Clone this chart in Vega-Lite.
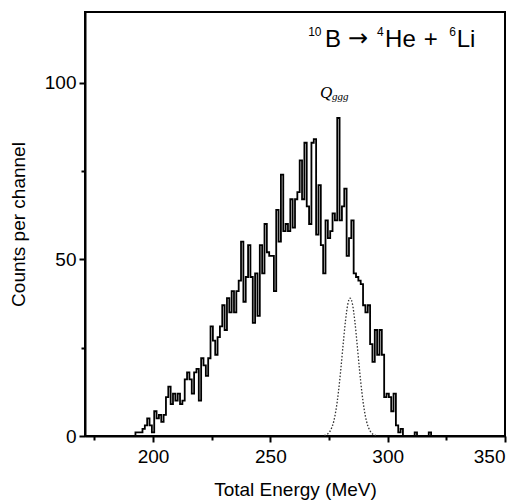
{
  "$schema": "https://vega.github.io/schema/vega-lite/v6.json",
  "width": 420,
  "height": 424,
  "autosize": {"type": "none"},
  "padding": {"left": 85, "top": 12, "right": 22, "bottom": 68},
  "background": "white",
  "config": {
    "view": {"stroke": "black", "strokeWidth": 2},
    "font": "Liberation Sans",
    "axis": {
      "grid": false,
      "domainColor": "black",
      "domainWidth": 2,
      "tickColor": "black",
      "tickWidth": 2,
      "labelFont": "Liberation Sans",
      "labelFontSize": 19,
      "labelColor": "black",
      "titleFont": "Liberation Sans",
      "titleFontSize": 19,
      "titleFontWeight": "normal",
      "titleColor": "black"
    }
  },
  "datasets": {
    "hist": [
      {"e": 192, "c": 0}, {"e": 193, "c": 1}, {"e": 194, "c": 1}, {"e": 195, "c": 1}, {"e": 196, "c": 2},
      {"e": 197, "c": 3}, {"e": 198, "c": 5}, {"e": 199, "c": 3}, {"e": 200, "c": 1}, {"e": 201, "c": 7},
      {"e": 202, "c": 5}, {"e": 203, "c": 6}, {"e": 204, "c": 4}, {"e": 205, "c": 6}, {"e": 206, "c": 11},
      {"e": 207, "c": 14}, {"e": 208, "c": 9}, {"e": 209, "c": 12}, {"e": 210, "c": 10}, {"e": 211, "c": 12},
      {"e": 212, "c": 9}, {"e": 213, "c": 10}, {"e": 214, "c": 16}, {"e": 215, "c": 18}, {"e": 216, "c": 16},
      {"e": 217, "c": 12}, {"e": 218, "c": 18}, {"e": 219, "c": 19}, {"e": 220, "c": 10}, {"e": 221, "c": 22},
      {"e": 222, "c": 20}, {"e": 223, "c": 17}, {"e": 224, "c": 22}, {"e": 225, "c": 31}, {"e": 226, "c": 27},
      {"e": 227, "c": 23}, {"e": 228, "c": 28}, {"e": 229, "c": 31}, {"e": 230, "c": 37}, {"e": 231, "c": 30},
      {"e": 232, "c": 39}, {"e": 233, "c": 35}, {"e": 234, "c": 41}, {"e": 235, "c": 35}, {"e": 236, "c": 41},
      {"e": 237, "c": 44}, {"e": 238, "c": 55}, {"e": 239, "c": 38}, {"e": 240, "c": 45}, {"e": 241, "c": 54},
      {"e": 242, "c": 45}, {"e": 243, "c": 32}, {"e": 244, "c": 46}, {"e": 245, "c": 34}, {"e": 246, "c": 54},
      {"e": 247, "c": 46}, {"e": 248, "c": 60}, {"e": 249, "c": 52}, {"e": 250, "c": 51}, {"e": 251, "c": 51},
      {"e": 252, "c": 41}, {"e": 253, "c": 64}, {"e": 254, "c": 55}, {"e": 255, "c": 74}, {"e": 256, "c": 58},
      {"e": 257, "c": 60}, {"e": 258, "c": 58}, {"e": 259, "c": 67}, {"e": 260, "c": 59}, {"e": 261, "c": 67},
      {"e": 262, "c": 69}, {"e": 263, "c": 78}, {"e": 264, "c": 67}, {"e": 265, "c": 83}, {"e": 266, "c": 65},
      {"e": 267, "c": 60}, {"e": 268, "c": 83}, {"e": 269, "c": 84}, {"e": 270, "c": 57}, {"e": 271, "c": 71},
      {"e": 272, "c": 54}, {"e": 273, "c": 46}, {"e": 274, "c": 61}, {"e": 275, "c": 56}, {"e": 276, "c": 58},
      {"e": 277, "c": 63}, {"e": 278, "c": 61}, {"e": 279, "c": 90}, {"e": 280, "c": 61}, {"e": 281, "c": 65},
      {"e": 282, "c": 70}, {"e": 283, "c": 51}, {"e": 284, "c": 56}, {"e": 285, "c": 61}, {"e": 286, "c": 46},
      {"e": 287, "c": 45}, {"e": 288, "c": 44}, {"e": 289, "c": 43}, {"e": 290, "c": 37}, {"e": 291, "c": 35},
      {"e": 292, "c": 37}, {"e": 293, "c": 26}, {"e": 294, "c": 21}, {"e": 295, "c": 30}, {"e": 296, "c": 23},
      {"e": 297, "c": 30}, {"e": 298, "c": 23}, {"e": 299, "c": 11}, {"e": 300, "c": 12}, {"e": 301, "c": 11},
      {"e": 302, "c": 7}, {"e": 303, "c": 12}, {"e": 304, "c": 3}, {"e": 305, "c": 1}, {"e": 306, "c": 2},
      {"e": 307, "c": 0}, {"e": 308, "c": 0}, {"e": 309, "c": 0}, {"e": 310, "c": 0}, {"e": 311, "c": 0},
      {"e": 312, "c": 1}, {"e": 313, "c": 0}, {"e": 314, "c": 0}, {"e": 315, "c": 0}, {"e": 316, "c": 0},
      {"e": 317, "c": 0}, {"e": 318, "c": 1}, {"e": 319, "c": 0}
    ],
    "gauss": [
      {"e": 273, "c": 0.15}, {"e": 274, "c": 0.4}, {"e": 275, "c": 0.95}, {"e": 276, "c": 2.1},
      {"e": 277, "c": 4.1}, {"e": 278, "c": 7.5}, {"e": 279, "c": 12.4}, {"e": 280, "c": 18.7},
      {"e": 281, "c": 25.8}, {"e": 282, "c": 32.5}, {"e": 283, "c": 37.3}, {"e": 284, "c": 39},
      {"e": 285, "c": 37.3}, {"e": 286, "c": 32.5}, {"e": 287, "c": 25.8}, {"e": 288, "c": 18.7},
      {"e": 289, "c": 12.4}, {"e": 290, "c": 7.5}, {"e": 291, "c": 4.1}, {"e": 292, "c": 2.1},
      {"e": 293, "c": 0.95}, {"e": 294, "c": 0.4}, {"e": 295, "c": 0.15}
    ],
    "main": [
      {"e": 273.3, "c": 110.2, "t": "B"},
      {"e": 298.9, "c": 110.2, "t": "He"},
      {"e": 315.4, "c": 110.2, "t": "+"},
      {"e": 329.4, "c": 110.2, "t": "Li"}
    ],
    "arrow": [
      {"e": 283.1, "c": 110.4, "t": "→"}
    ],
    "sup": [
      {"e": 266.1, "c": 113.3, "t": "10"},
      {"e": 295.5, "c": 113.3, "t": "4"},
      {"e": 326.2, "c": 113.3, "t": "6"}
    ],
    "q": [{"e": 271.2, "c": 95.8, "t": "Q"}],
    "qsub": [{"e": 276.3, "c": 95.0, "t": "ggg"}]
  },
  "layer": [
    {
      "data": {"name": "hist"},
      "mark": {"type": "line", "interpolate": "step", "color": "black", "strokeWidth": 1.8},
      "encoding": {
        "x": {
          "field": "e", "type": "quantitative",
          "scale": {"domain": [171, 350], "nice": false, "zero": false},
          "axis": {
            "title": "Total Energy (MeV)",
            "values": [175, 200, 225, 250, 275, 300, 325, 350],
            "labelExpr": "datum.value % 50 === 0 ? datum.label : ''",
            "tickSize": {"condition": {"test": "datum.value % 50 === 0", "value": 6}, "value": 4},
            "labelPadding": 5,
            "titlePadding": 14
          }
        },
        "y": {
          "field": "c", "type": "quantitative",
          "scale": {"domain": [0, 120], "nice": false},
          "axis": {
            "title": "Counts per channel",
            "values": [0, 25, 50, 75, 100],
            "labelExpr": "datum.value % 50 === 0 ? datum.label : ''",
            "tickSize": {"condition": {"test": "datum.value % 50 === 0", "value": 6}, "value": 4},
            "labelPadding": 3,
            "titlePadding": 16
          }
        }
      }
    },
    {
      "data": {"name": "gauss"},
      "mark": {"type": "line", "interpolate": "monotone", "color": "#333333", "strokeWidth": 1.3, "strokeDash": [1.5, 1.8]},
      "encoding": {
        "x": {"field": "e", "type": "quantitative"},
        "y": {"field": "c", "type": "quantitative"}
      }
    },
    {
      "data": {"name": "main"},
      "mark": {"type": "text", "align": "left", "baseline": "alphabetic", "fontSize": 24, "font": "Liberation Sans", "color": "black"},
      "encoding": {
        "x": {"field": "e", "type": "quantitative"},
        "y": {"field": "c", "type": "quantitative"},
        "text": {"field": "t"}
      }
    },
    {
      "data": {"name": "arrow"},
      "mark": {"type": "text", "align": "left", "baseline": "alphabetic", "fontSize": 24, "font": "DejaVu Sans", "color": "black"},
      "encoding": {
        "x": {"field": "e", "type": "quantitative"},
        "y": {"field": "c", "type": "quantitative"},
        "text": {"field": "t"}
      }
    },
    {
      "data": {"name": "sup"},
      "mark": {"type": "text", "align": "left", "baseline": "alphabetic", "fontSize": 12, "font": "Liberation Sans", "color": "black"},
      "encoding": {
        "x": {"field": "e", "type": "quantitative"},
        "y": {"field": "c", "type": "quantitative"},
        "text": {"field": "t"}
      }
    },
    {
      "data": {"name": "q"},
      "mark": {"type": "text", "align": "left", "baseline": "alphabetic", "fontSize": 17, "font": "Liberation Serif", "fontStyle": "italic", "color": "black"},
      "encoding": {
        "x": {"field": "e", "type": "quantitative"},
        "y": {"field": "c", "type": "quantitative"},
        "text": {"field": "t"}
      }
    },
    {
      "data": {"name": "qsub"},
      "mark": {"type": "text", "align": "left", "baseline": "alphabetic", "fontSize": 11, "font": "Liberation Serif", "fontStyle": "italic", "color": "black"},
      "encoding": {
        "x": {"field": "e", "type": "quantitative"},
        "y": {"field": "c", "type": "quantitative"},
        "text": {"field": "t"}
      }
    }
  ]
}
